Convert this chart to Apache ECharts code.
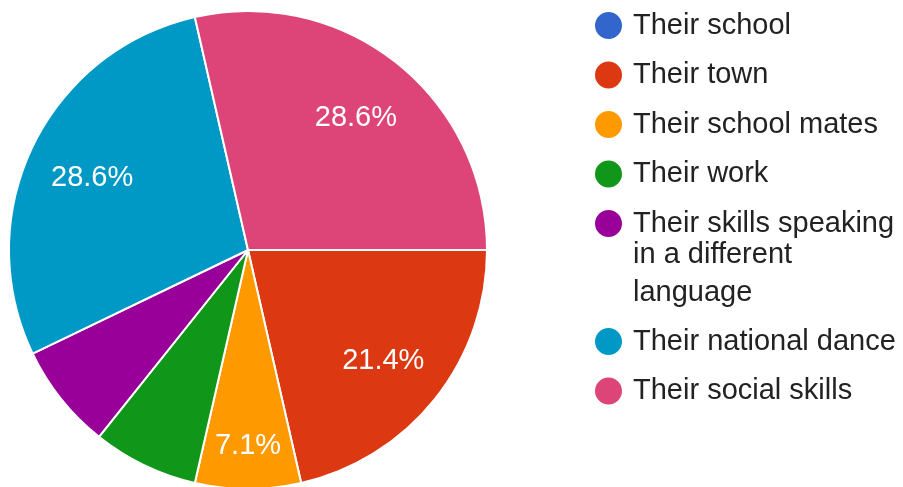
<!DOCTYPE html>
<html>
<head>
<meta charset="utf-8">
<script src="https://cdn.jsdelivr.net/npm/echarts@6/dist/echarts.min.js"></script>
<style>
  html, body { margin: 0; padding: 0; background: #fff; }
  #main { width: 903px; height: 487px; }
</style>
</head>
<body>
<div id="main"></div>
<script>
// answers and counts (14 responses)
var categories = ['Their school', 'Their town', 'Their school mates', 'Their work',
    'Their skills speaking in a different language', 'Their national dance', 'Their social skills'];
var counts = [0, 3, 1, 1, 1, 4, 4];
var colors = ['#3366cc', '#dc3912', '#ff9900', '#109618', '#990099', '#0099c6', '#dd4477'];
// slices that carry a percentage label in the picture
var labelled = [false, true, true, false, false, true, true];

var font = 'Arial, "Liberation Sans", sans-serif';
var longName = categories[4];
var total = counts.reduce(function (a, b) { return a + b; }, 0);

var pieData = categories.map(function (name, i) {
    return { name: name, value: counts[i], itemStyle: { color: colors[i] } };
});
var labelData = categories.map(function (name, i) {
    return { name: name, value: counts[i], label: { show: labelled[i] } };
});

var legendText = {
    fontFamily: font,
    fontSize: 29,
    color: '#222',
    lineHeight: 30
};

var myChart = echarts.init(document.getElementById('main'));
myChart.setOption({
    animation: false,
    legend: [{
        orient: 'vertical',
        left: 593,
        top: 10,
        padding: 0,
        icon: 'circle',
        itemWidth: 39,
        itemHeight: 29,
        itemGap: 18.5,
        selectedMode: false,
        data: categories.slice(0, 5),
        formatter: function (name) {
            return name === longName ? 'Their skills speaking' : name;
        },
        textStyle: legendText
    }, {
        orient: 'vertical',
        left: 593,
        top: 326,
        padding: 0,
        icon: 'circle',
        itemWidth: 39,
        itemHeight: 29,
        itemGap: 18.5,
        selectedMode: false,
        data: categories.slice(5),
        textStyle: legendText
    }],
    graphic: [{
        type: 'text',
        left: 633,
        top: 236,
        style: {
            text: 'in a different\nlanguage',
            font: '29px ' + font,
            fill: '#222',
            lineHeight: 38
        }
    }],
    series: [{
        type: 'pie',
        center: [248, 250],
        radius: 239,
        startAngle: 0,
        clockwise: true,
        silent: true,
        label: { show: false },
        labelLine: { show: false },
        itemStyle: { borderColor: '#fff', borderWidth: 2 },
        emphasis: { disabled: true },
        data: pieData
    }, {
        // transparent overlay used to place the percentage labels
        type: 'pie',
        center: [248, 253],
        radius: [100, 240],
        startAngle: 0,
        clockwise: true,
        silent: true,
        itemStyle: { color: 'rgba(0,0,0,0)', borderWidth: 0 },
        emphasis: { disabled: true },
        label: {
            show: true,
            position: 'inside',
            color: '#fff',
            fontFamily: font,
            fontSize: 29,
            formatter: function (p) {
                return (p.value / total * 100).toFixed(1) + '%';
            }
        },
        labelLayout: function (p) {
            return p.dataIndex === 2 ? { dy: 20 } : {};
        },
        labelLine: { show: false },
        data: labelData
    }]
});
</script>
</body>
</html>
